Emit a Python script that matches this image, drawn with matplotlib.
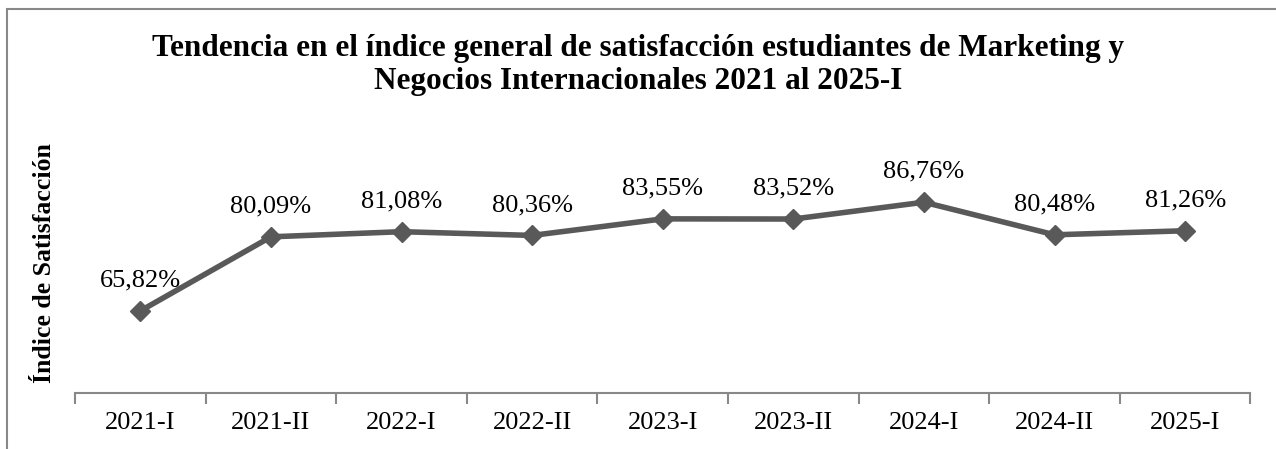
import numpy as np
import matplotlib
matplotlib.use("Agg")
import matplotlib.pyplot as plt
from matplotlib.patches import Rectangle

periodos = ["2021-I", "2021-II", "2022-I", "2022-II", "2023-I",
            "2023-II", "2024-I", "2024-II", "2025-I"]
satisfaccion = [65.82, 80.09, 81.08, 80.36, 83.55, 83.52, 86.76, 80.48, 81.26]

titulo = ("Tendencia en el índice general de satisfacción estudiantes de Marketing y\n"
          "Negocios Internacionales 2021 al 2025-I")

plt.rcParams['font.family'] = ['Liberation Serif', 'DejaVu Serif']


def main():
    fig = plt.figure(figsize=(12.76, 4.49), dpi=100)
    ax = fig.add_axes([0.0588, 0.1247, 0.9212, 0.578])

    x = np.arange(len(periodos))
    ax.plot(x, satisfaccion, color="#595959", lw=4, marker="D",
            markersize=10, markerfacecolor="#595959", markeredgecolor="#595959")

    # etiquetas de datos
    for xi, v in zip(x, satisfaccion):
        txt = f"{v:.2f}%".replace(".", ",")
        ax.annotate(txt, (xi, v), xytext=(0, 14), textcoords="offset points",
                    ha="center", va="bottom", fontsize=19)

    ax.set_xlim(-0.5, len(periodos) - 0.5)
    ax.set_ylim(50, 100)

    # marcas entre categorias, etiquetas al centro
    ax.set_xticks(np.arange(-0.5, len(periodos)))
    ax.set_xticklabels([])
    ax.set_xticks(x, minor=True)
    ax.set_xticklabels(periodos, minor=True, fontsize=19)
    ax.tick_params(axis="x", which="major", length=8, width=1.5, color="#888888", direction="out")
    ax.tick_params(axis="x", which="minor", length=0, pad=14)
    ax.set_yticks([])

    for s in ["top", "right", "left"]:
        ax.spines[s].set_visible(False)
    ax.spines["bottom"].set_color("#888888")
    ax.spines["bottom"].set_linewidth(1.5)

    ax.set_ylabel("Índice de Satisfacción", fontsize=18.5, fontweight="bold", labelpad=14)

    fig.text(0.5, 0.925, titulo, ha="center", va="top", fontsize=22.5,
             fontweight="bold", linespacing=1.2)

    # borde del area del grafico
    fig.patches.append(Rectangle((7 / 1276, -0.1), 1.2, 1.1 - 9 / 449,
                                 transform=fig.transFigure, fill=False,
                                 edgecolor="#888888", lw=1.5))

    fig.savefig("out.png", dpi=100)


if __name__ == '__main__':
    main()
